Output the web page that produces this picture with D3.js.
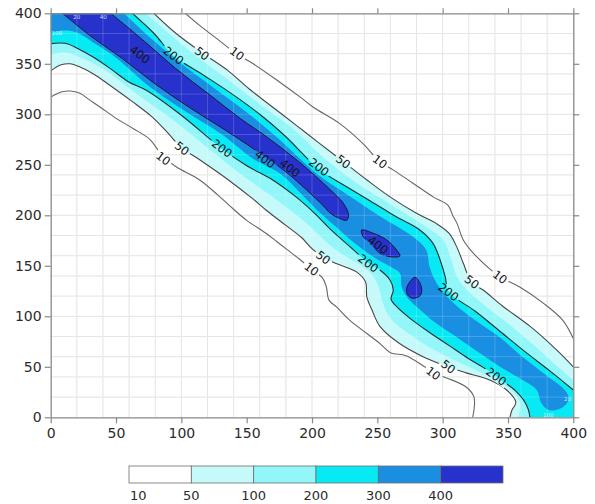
<!DOCTYPE html>
<html>
<head>
<meta charset="utf-8">
<script src="https://cdn.jsdelivr.net/npm/d3@7"></script>
<style>
  html, body { margin: 0; padding: 0; background: #ffffff; }
  svg { display: block; font-family: "DejaVu Sans", Verdana, sans-serif; }
</style>
</head>
<body>
<svg id="chart" width="595" height="504"></svg>
<script>
// ---- axis ticks --------------------------------------------------------
const xTicks = [0, 50, 100, 150, 200, 250, 300, 350, 400];
const yTicks = [0, 50, 100, 150, 200, 250, 300, 350, 400];

// ---- legend ------------------------------------------------------------
const levelLabels = ["10", "50", "100", "200", "300", "400"];
const levelColors = ["#ffffff", "#c6f9f9", "#93f6f8", "#08eaf3", "#1a8fe2", "#2632cb"];

// ---- contour boundaries, [x, y] in data units ----------------------------
// Upper side of the ridge (top edge -> right edge)
const upper10  = [[103,400],[114,388],[130,372],[142,360],[155,350],[173,334],[191,317],[201,307],[221,291],[239,271],[252,253],[262,245],[277,232],[293,218],[304,210],[308,199],[311,192],[316,175],[326,159],[344,139],[359,129],[377,113],[392,96],[400,78]];
const upper50  = [[79,400],[96,380],[117,360],[135,344],[152,325],[170,307],[188,289],[205,272],[224,253],[242,235],[260,218],[280,202],[295,192],[305,182],[311,168],[316,152],[322,134],[331,126],[346,110],[367,90],[387,67],[400,50]];
const upper100 = [[72.5,400],[85.5,385.5],[109.5,359.5],[135,335],[160,310],[185.5,285.5],[208,258],[233,233],[260.5,210.5],[288,188],[300.5,175.5],[306.5,156.5],[310.5,140.5],[317.5,127.5],[331.5,111.5],[351.5,91.5],[370.5,70.5],[389,49],[400,37]];
const upper200 = [[62.5,400],[79.5,379.5],[93.5,358.5],[118,338],[139.5,319.5],[160,300],[179,279],[205.5,245.5],[227.5,227.5],[250,210],[264.5,198.5],[282.5,185.5],[292.5,172.5],[298,156],[302,139],[304.5,124.5],[325,105],[344.5,84.5],[364,64],[383,45],[400,27]];
const upper300 = [[56,400],[76,376],[100,350],[125.5,325.5],[151,301],[175,275],[202.5,242.5],[223.5,223.5],[252,199],[277.5,178.5],[287.5,165.5],[290,149],[295.5,132.5],[306,116],[325.5,95.5],[344,79],[360,61],[380,41]];
const tip300   = [[393.5,27],[396.5,18],[392,10],[382,7],[375.5,14]];

// Lower side of the ridge (left edge -> bottom edge)
const lower10  = [[0,317],[8,322],[15,323],[22,321],[30,314],[38,307],[50,296],[63,286],[76,275],[86,258],[96,248],[114,235],[128,220],[140,206],[150,195],[165,182],[173,174],[181,166],[191,156],[200,146],[208,138],[211,129],[213,116],[219,109],[229,96],[242,83],[252,73],[260,64],[272,61],[285,51],[293,44],[303,39],[318,30],[324,20],[323,0]];
const lower50  = [[0,343],[8,349],[15,350],[22,347],[34,339],[45,329],[62,313],[78,297],[90,281],[100,267],[114,255],[135,236],[155,216],[165,205],[180,190],[192,178],[200,167],[209,158],[219,152],[234,144],[241,134],[242,119],[246,106],[252,90],[267,73],[285,60],[304,50],[318,44],[336,37],[349,27],[356,15],[353,7],[351.5,0]];
const lower100 = [[0,359],[12,361],[25,355],[40,345],[68,318],[94,294],[118.5,268.5],[143,243],[169,219],[194,194],[217,167],[239,149],[246.5,140.5],[251,129],[254,114],[260,98],[275.5,81.5],[292.5,67.5],[310,56],[323,48],[338,39],[352,27.5],[359,16],[359,7],[358,0]];
const lower200 = [[0,370],[11,370.3],[21,365],[34,355.5],[47,344],[59.4,332.3],[73.5,323.5],[99.5,299.5],[131,266],[149.5,249.5],[170.5,234.5],[188,218],[202,202],[215,185],[229,169],[242.5,153.5],[252,145.8],[259.7,136],[262.2,126],[260.5,117],[264.8,109.5],[275,98],[290,84],[305,71],[320,58],[334,47],[346,36],[356,26],[362,17],[365.5,8],[366.8,0]];
const lower300 = [[0,381],[10,383],[20,381],[35,369],[50,356],[76.5,326.5],[103,303],[130.5,280.5],[155.5,255.5],[176.5,240.5],[191.5,221.5],[204.5,204.5],[218.5,188.5],[232.5,172.5],[248,158],[259.5,149.5],[267.3,142.6],[268.6,129.3],[272.5,119.4],[284.5,104.5],[294,94],[310,80],[328.6,63.4],[344,50],[359,38.6],[372,27]];

// Peak (>= 400) tongue and the two isolated peaks
const peakLower = [[9,400],[30,378],[55,355],[80,330],[106.5,306.5],[134,284],[155,266],[179.5,243.5],[195.5,225.5],[209,209],[214,202],[221,197],[226.5,195]];
const peakUpper = [[46,400],[72,372],[95.5,345.5],[120.5,320.5],[145.5,295.5],[166,277],[189.5,253.5],[205.5,235.5],[219,219],[224,212],[228,200.5]];
const peakIsland1 = [[237.9,185.4],[246.9,182.2],[257.2,175.6],[264.8,165.6],[267.3,159.7],[259.7,159],[252,162.4],[244.4,172.3],[239.2,178.9]];
const peakIsland2 = [[278.8,138.6],[282.1,134.3],[283.9,127.7],[283.2,121.1],[277.5,117.8],[273.2,121.1],[272.5,127.7],[275,134.3]];

// Contour labels placed along the lines
const contourLabels = [
  {text: "400", x: 68.3,  y: 359.2}, {text: "200", x: 94.0,  y: 358.2},
  {text: "50",  x: 115.8, y: 360.2}, {text: "10",  x: 142.6, y: 360.2},
  {text: "50",  x: 100.5, y: 266.3}, {text: "10",  x: 86.2,  y: 256.4},
  {text: "200", x: 131.1, y: 266.3}, {text: "400", x: 164.0, y: 255.7},
  {text: "400", x: 183.1, y: 246.8}, {text: "200", x: 205.3, y: 247.8},
  {text: "50",  x: 223.9, y: 253.1}, {text: "10",  x: 252.0, y: 253.1},
  {text: "400", x: 250.5, y: 170.6}, {text: "200", x: 243.1, y: 152.5},
  {text: "50",  x: 208.6, y: 158.2}, {text: "10",  x: 199.6, y: 146.8},
  {text: "200", x: 304.5, y: 124.1}, {text: "50",  x: 322.4, y: 134.0},
  {text: "10",  x: 343.9, y: 138.9}, {text: "200", x: 341.0, y: 40.4},
  {text: "50",  x: 304.3, y: 50.1},  {text: "10",  x: 292.8, y: 43.6}
];
// Small clipped labels left at the plot edges
const edgeLabels = [
  {text: "20", x: 19.9, y: 396.5}, {text: "40", x: 40.3, y: 396.5},
  {text: "100", x: 4.6, y: 380.2}, {text: "100", x: 380.8, y: 2.5},
  {text: "20", x: 395.5, y: 18.5}
];

// ---- scales --------------------------------------------------------------
const W = 595, H = 504;
const x = d3.scaleLinear().domain([0, 400]).range([50.7, 573.3]);
const y = d3.scaleLinear().domain([0, 400]).range([417.3, 13.3]);

const svg = d3.select("#chart");
svg.append("rect").attr("width", W).attr("height", H).attr("fill", "#ffffff");

const defs = svg.append("defs");
defs.append("clipPath").attr("id", "plotClip")
  .append("rect")
  .attr("x", x(0)).attr("y", y(400))
  .attr("width", x(400) - x(0)).attr("height", y(0) - y(400));

// gaps in the contour lines under the labels
const LABEL_ANGLE = 37;
const mask = defs.append("mask").attr("id", "labelGaps")
  .attr("maskUnits", "userSpaceOnUse")
  .attr("x", 0).attr("y", 0).attr("width", W).attr("height", H);
mask.append("rect").attr("width", W).attr("height", H).attr("fill", "#fff");
mask.selectAll("rect.gap").data(contourLabels).join("rect")
  .attr("class", "gap")
  .attr("x", d => -(d.text.length * 7.4 + 4) / 2)
  .attr("y", -5)
  .attr("width", d => d.text.length * 7.4 + 4)
  .attr("height", 10)
  .attr("fill", "#000")
  .attr("transform", d => `translate(${x(d.x)},${y(d.y)}) rotate(${LABEL_ANGLE})`);

// ---- grid ----------------------------------------------------------------
const gridValues = d3.range(20, 400, 20);
const grid = svg.append("g");
grid.selectAll("line.v").data(gridValues).join("line")
  .attr("x1", d => x(d)).attr("x2", d => x(d))
  .attr("y1", y(0)).attr("y2", y(400))
  .attr("stroke", "#e0e0e0").attr("stroke-width", 1);
grid.selectAll("line.h").data(gridValues).join("line")
  .attr("y1", d => y(d)).attr("y2", d => y(d))
  .attr("x1", x(0)).attr("x2", x(400))
  .attr("stroke", "#e0e0e0").attr("stroke-width", 1);

// ---- filled contour bands --------------------------------------------------
const smooth = d3.line().x(d => x(d[0])).y(d => y(d[1])).curve(d3.curveCatmullRom.alpha(0.5));
const smoothClosed = d3.line().x(d => x(d[0])).y(d => y(d[1])).curve(d3.curveCatmullRomClosed.alpha(0.5));
const outside = (a, b) => `L${x(a)},${y(b)}`;

// band between an upper line (top -> right edge) and a lower line (left -> bottom edge)
function bandPath(upper, lower) {
  const up = smooth(upper);
  const low = smooth(lower.slice().reverse()).replace(/^M/, "L");
  return up + outside(414, -14) + low + outside(-14, 414) + "Z";
}

const fills = svg.append("g").attr("clip-path", "url(#plotClip)");
fills.append("path").attr("d", bandPath(upper50, lower50)).attr("fill", levelColors[1]);
fills.append("path").attr("d", bandPath(upper100, lower100)).attr("fill", levelColors[2]);
fills.append("path").attr("d", bandPath(upper200, lower200)).attr("fill", levelColors[3]);
fills.append("path")
  .attr("d", smooth(upper300.concat(tip300, lower300.slice().reverse())) + outside(-14, 414) + "Z")
  .attr("fill", levelColors[4]);
const peakOutline = peakLower.concat(peakUpper.slice().reverse());
fills.append("path")
  .attr("d", smooth(peakOutline) + outside(46, 410) + outside(9, 410) + "Z")
  .attr("fill", levelColors[5]);
[peakIsland1, peakIsland2].forEach(isl => {
  fills.append("path").attr("d", smoothClosed(isl)).attr("fill", levelColors[5]);
});

// faint grid showing through the colour bands
const gridOver = svg.append("g").attr("clip-path", "url(#plotClip)");
gridOver.selectAll("line.v").data(gridValues).join("line")
  .attr("x1", d => x(d)).attr("x2", d => x(d))
  .attr("y1", y(0)).attr("y2", y(400))
  .attr("stroke", "#ffffff").attr("stroke-opacity", 0.18);
gridOver.selectAll("line.h").data(gridValues).join("line")
  .attr("y1", d => y(d)).attr("y2", d => y(d))
  .attr("x1", x(0)).attr("x2", x(400))
  .attr("stroke", "#ffffff").attr("stroke-opacity", 0.18);

// ---- contour lines -----------------------------------------------------------
const lines = svg.append("g").attr("clip-path", "url(#plotClip)")
  .append("g").attr("mask", "url(#labelGaps)").attr("fill", "none");
[upper10, lower10].forEach(l => lines.append("path").attr("d", smooth(l))
  .attr("stroke", "#666666").attr("stroke-width", 1.1));
[upper50, lower50].forEach(l => lines.append("path").attr("d", smooth(l))
  .attr("stroke", "#474747").attr("stroke-width", 1.1));
[upper200, lower200].forEach(l => lines.append("path").attr("d", smooth(l))
  .attr("stroke", "#233030").attr("stroke-width", 1.1));
lines.append("path").attr("d", smooth(peakOutline))
  .attr("stroke", "#181838").attr("stroke-width", 1);
[peakIsland1, peakIsland2].forEach(isl => lines.append("path").attr("d", smoothClosed(isl))
  .attr("stroke", "#181838").attr("stroke-width", 1));

// ---- labels on the contours ------------------------------------------------
const labels = svg.append("g").attr("clip-path", "url(#plotClip)");
labels.selectAll("text.cl").data(contourLabels).join("text")
  .attr("class", "cl")
  .attr("transform", d => `translate(${x(d.x)},${y(d.y)}) rotate(${LABEL_ANGLE})`)
  .attr("text-anchor", "middle").attr("dy", "0.36em")
  .attr("font-size", 11.5).attr("fill", "#141414")
  .text(d => d.text);
labels.selectAll("text.el").data(edgeLabels).join("text")
  .attr("class", "el")
  .attr("x", d => x(d.x)).attr("y", d => y(d.y))
  .attr("text-anchor", "middle").attr("dy", "0.35em")
  .attr("font-size", 5.5).attr("fill", "#eaf6ff").attr("fill-opacity", 0.85)
  .text(d => d.text);

// ---- axes -----------------------------------------------------------------
const axisColor = "#888888";
function styleAxis(g, withText) {
  g.select(".domain").attr("stroke", axisColor).attr("stroke-width", 1.3);
  g.selectAll(".tick line").attr("stroke", axisColor).attr("stroke-width", 1.2);
  g.selectAll(".tick text").attr("fill", "#2b2b2b")
    .attr("font-size", 14).attr("font-family", "DejaVu Sans, Verdana, sans-serif");
  if (!withText) g.selectAll(".tick text").remove();
}
svg.append("g").attr("transform", `translate(0,${y(0)})`)
  .call(d3.axisBottom(x).tickValues(xTicks).tickSize(6).tickSizeOuter(0).tickPadding(5))
  .call(g => styleAxis(g, true));
svg.append("g").attr("transform", `translate(${x(0)},0)`)
  .call(d3.axisLeft(y).tickValues(yTicks).tickSize(6).tickSizeOuter(0).tickPadding(3))
  .call(g => styleAxis(g, true));
svg.append("g").attr("transform", `translate(0,${y(400)})`)
  .call(d3.axisTop(x).tickValues(xTicks).tickSize(5).tickSizeOuter(0).tickFormat(""))
  .call(g => styleAxis(g, false));
svg.append("g").attr("transform", `translate(${x(400)},0)`)
  .call(d3.axisRight(y).tickValues(yTicks).tickSize(6).tickSizeOuter(0).tickFormat(""))
  .call(g => styleAxis(g, false));

// ---- colour bar -------------------------------------------------------------
const bar = d3.scaleBand().domain(levelLabels).range([129, 503]).paddingInner(0).paddingOuter(0);
const legend = svg.append("g");
legend.selectAll("rect").data(levelLabels).join("rect")
  .attr("x", d => bar(d)).attr("y", 466)
  .attr("width", bar.bandwidth()).attr("height", 17)
  .attr("fill", (d, i) => levelColors[i])
  .attr("stroke", "#6e6e6e").attr("stroke-width", 0.8);
legend.selectAll("text").data(levelLabels).join("text")
  .attr("x", (d, i) => i === 0 ? bar(d) + 1 : bar(d))
  .attr("y", 500)
  .attr("text-anchor", (d, i) => i === 0 ? "start" : "middle")
  .attr("font-size", 13).attr("fill", "#2b2b2b")
  .text(d => d);
</script>
</body>
</html>
